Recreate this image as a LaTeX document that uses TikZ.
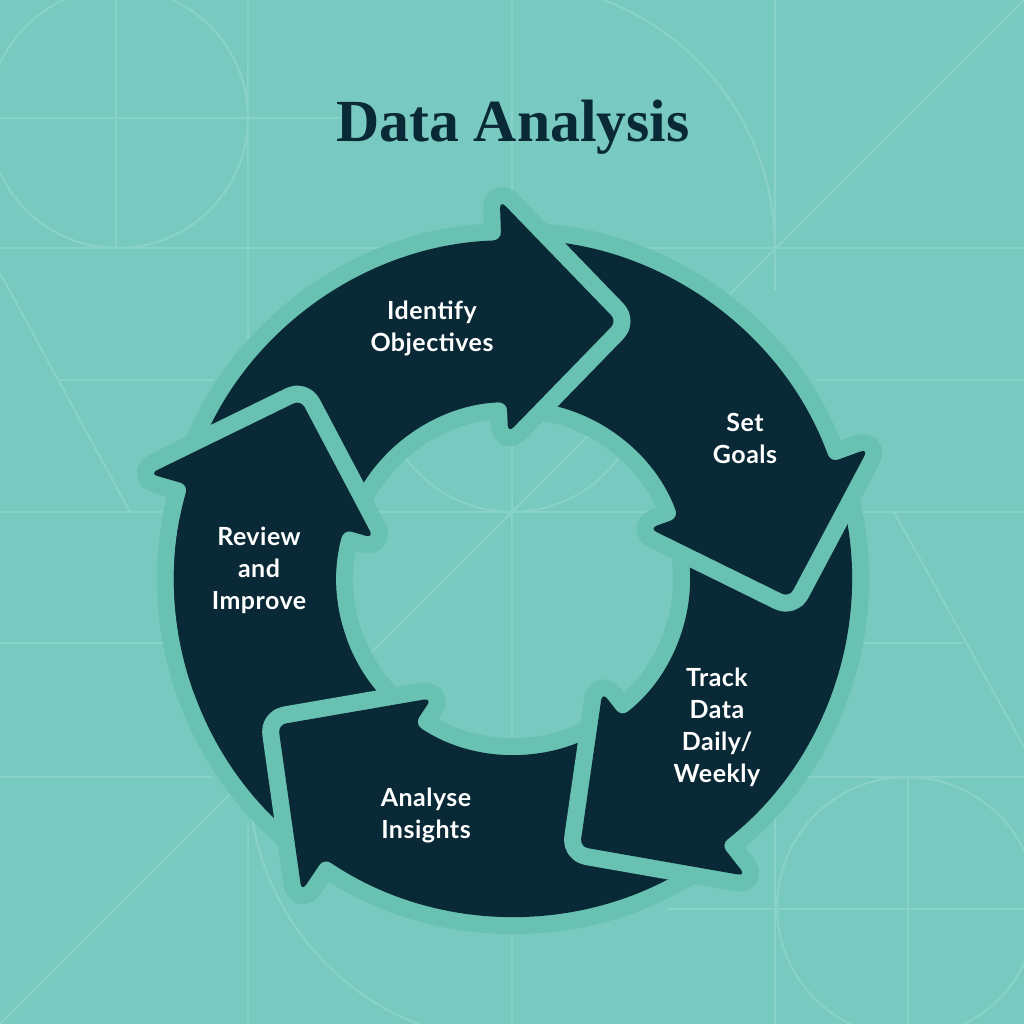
\documentclass[tikz,border=0pt]{standalone}
\usepackage{fontspec}
\usepackage{tikz}
\usetikzlibrary{positioning}
\setmainfont{Liberation Serif}
\newfontfamily\stepfont[LetterSpace=2]{Lato}
\definecolor{bgteal}{HTML}{78CAC0}
\definecolor{gridline}{HTML}{88D2C9}
\definecolor{halo}{HTML}{69C2B1}
\definecolor{navy}{HTML}{0A2936}
\newcommand{\Rin}{176}
\newcommand{\Rout}{338}
% one step of the ring; #2 = angle of the head's back edge
\newcommand{\cyclearrow}[2][ringarrow]{%
  \path[#1] ({#2+70}:\Rin) arc[start angle={#2+70}, end angle={#2}, radius=\Rin]
    -- (#2:145) -- ({#2-24}:277) -- (#2:378) -- (#2:\Rout)
    arc[start angle={#2}, end angle={#2+70}, radius=\Rout] -- cycle;}
\tikzset{
  bgline/.style   ={draw=gridline, line width=0.6pt},
  ringhalo/.style ={draw=halo, line width=9.7pt, line join=round, rounded corners=2.3pt},
  ringfill/.style ={fill=navy, rounded corners=2.3pt},
  ringarrow/.style={ringfill, preaction={ringhalo}},
  stepl/.style    ={font=\stepfont\bfseries\fontsize{7.1}{9.1}\selectfont, text=white, align=center},
  headline/.style ={font=\bfseries\fontsize{17}{20}\selectfont, text=navy},
}

\begin{document}
\begin{tikzpicture}[x=0.01cm, y=0.01cm]
  \useasboundingbox (0,0) rectangle (1024,1024);
  \fill[bgteal] (0,0) rectangle (1024,1024);

  % faint background pattern
  \begin{scope}
    \clip (0,0) rectangle (1024,1024);
    \draw[bgline] (116,1024) -- (116,776)  (248,1024) -- (248,684)  (248,201) -- (248,0)
                  (512,0) -- (512,1024)  (775,1024) -- (775,734)  (775,247) -- (775,0)
                  (908,247) -- (908,0);
    \draw[bgline] (0,906) -- (340,906)  (0,776) -- (1024,776)  (60,644) -- (213,644)
                  (817,644) -- (1024,644)  (0,512) -- (1024,512)  (0,381) -- (165,381)
                  (863,381) -- (963,381)  (0,247) -- (213,247)  (807,247) -- (1024,247)
                  (667,115) -- (1024,115);
    \draw[bgline] (0,0) -- (1024,1024)  (0,751) -- (130,512)  (894,512) -- (1024,277);
    \draw[bgline] (118,906) circle[radius=130]  (907,117) circle[radius=130];
    \draw[bgline] (510,1041) arc[start angle=90, end angle=0, radius=265];
    \draw[bgline] (249,247) arc[start angle=180, end angle=270, radius=265];
    \draw[bgline] (380,644) arc[start angle=180, end angle=270, radius=132];
    \draw[bgline] (512,512) arc[start angle=270, end angle=360, radius=132];
  \end{scope}

  \node[headline, anchor=base] (title) at (513,882) {Data Analysis};

  % ring: each head lies over the tail of the next step
  \begin{scope}[shift={(513,446)}]
    \cyclearrow{164}
    \cyclearrow{-124}
    \cyclearrow{-52}
    \cyclearrow{20}
    \cyclearrow{92}
    % put the Review head back over the Objectives tail
    \begin{scope}
      \clip (0,0) -- (126:600) -- (170:600) -- cycle;
      \cyclearrow[ringhalo]{164}
    \end{scope}
    \begin{scope}
      \clip (0,0) -- (126:600) -- (200:600) -- cycle;
      \cyclearrow[ringfill]{164}
    \end{scope}
  \end{scope}

  \node[stepl] (objectives) at (432,696) {Identify\\Objectives};
  \node[stepl] (goals)      at (745,586) {Set\\Goals};
  \node[stepl] (track)      at (717,297) {Track\\Data\\Daily/\\Weekly};
  \node[stepl] (insights)   at (426,209) {Analyse\\Insights};
  \node[stepl] (review)     at (259,454) {Review\\and\\Improve};
\end{tikzpicture}
\end{document}
